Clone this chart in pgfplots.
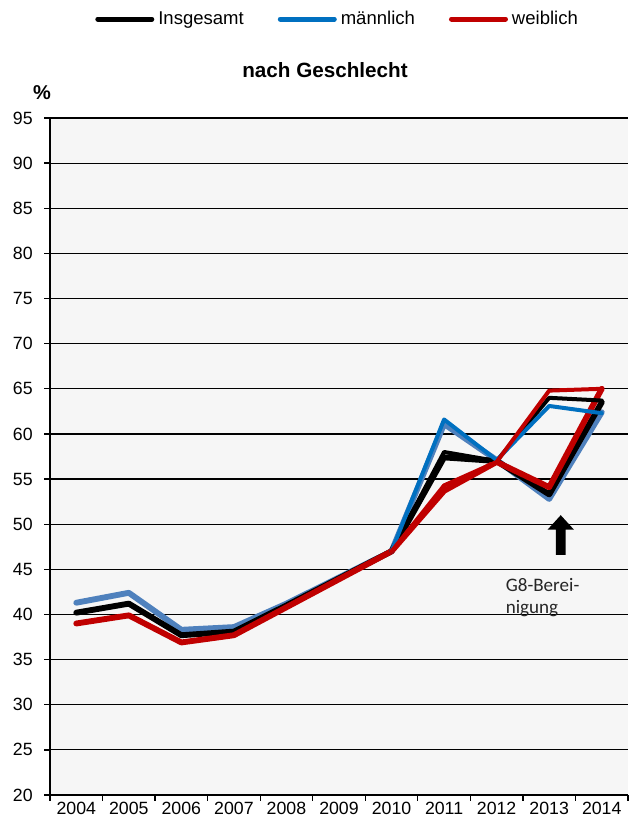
\documentclass[border=0pt]{standalone}
\usepackage{pgfplots}
\pgfplotsset{compat=1.18}
\usepackage{fontspec}
\setmainfont{Liberation Sans}
\newfontfamily\calibri{Carlito}
\definecolor{bgc}{RGB}{246,246,246}
\definecolor{blueA}{RGB}{79,129,189}
\definecolor{blueB}{RGB}{0,112,192}
\definecolor{redC}{RGB}{192,0,0}
\begin{document}
\begin{tikzpicture}
\path[use as bounding box] (-37.5pt,-24.75pt) rectangle (440.25pt,596.25pt);
\begin{axis}[
  scale only axis, width=433.5pt, height=507.75pt,
  at={(0pt,0pt)}, anchor=south west,
  xmin=2003.5, xmax=2014.5, ymin=20, ymax=95,
  axis x line*=bottom, axis y line*=left,
  axis line style={line width=1.1pt, -},
  xtick={2003.5,2004.5,2005.5,2006.5,2007.5,2008.5,2009.5,2010.5,2011.5,2012.5,2013.5,2014.5},
  x tick label as interval,
  xticklabels={2004,2005,2006,2007,2008,2009,2010,2011,2012,2013,2014},
  ytick={20,25,30,35,40,45,50,55,60,65,70,75,80,85,90,95},
  ymajorgrids, grid style={black, line width=0.9pt},
  tick align=outside,
  major tick length=4.5pt,
  tick style={black, line width=1pt},
  axis background/.style={fill=bgc},
  ticklabel style={font=\fontsize{13.3}{15}\selectfont},
  /pgf/number format/assume math mode=true,
  xticklabel style={yshift=3pt},
  yticklabel style={xshift=-5pt},
  clip=false,
  legend columns=3,
  legend style={draw=none, fill=none, at={(0.071,1.1462)}, anchor=west,
    font=\fontsize{13.9}{16}\selectfont,
    /tikz/every odd column/.append style={column sep=3pt},
    /tikz/every even column/.append style={column sep=25.5pt},
    nodes={inner sep=0pt}},
  legend image code/.code={\draw[line width=3.75pt, line cap=round] (0pt,0pt) -- (40.5pt,0pt);},
  every axis plot/.append style={line join=round, line cap=round},
]
% thick series (with G8 adjustment dip)
\addplot[blueA, line width=4.4pt, forget plot] coordinates {
(2004,41.3) (2005,42.4) (2006,38.3) (2007,38.6) (2008,41.2) (2009,44.1) (2010,47.0) (2011,61.1) (2012,57.1) (2013,52.8) (2014,62.4)};
\addplot[black, line width=4.4pt, forget plot] coordinates {
(2004,40.2) (2005,41.2) (2006,37.7) (2007,38.1) (2008,41.0) (2009,44.0) (2010,47.0) (2011,57.4) (2012,57.0) (2013,53.3) (2014,63.5)};
\addplot[redC, line width=4.4pt, forget plot] coordinates {
(2004,39.0) (2005,39.9) (2006,36.9) (2007,37.7) (2008,40.8) (2009,43.9) (2010,47.0) (2011,53.7) (2012,56.9) (2013,54.1) (2014,65.0)};
% thin series
\addplot[black, line width=3pt] coordinates {
(2010,47.0) (2011,58.0) (2012,57.0) (2013,64.0) (2014,63.7)};
\addlegendentry{Insgesamt}
\addplot[blueB, line width=3pt] coordinates {
(2010,47.0) (2011,61.6) (2012,57.1) (2013,63.1) (2014,62.3)};
\addlegendentry{männlich}
\addplot[redC, line width=3pt] coordinates {
(2010,47.0) (2011,54.3) (2012,56.9) (2013,64.8) (2014,65.0)};
\addlegendentry{weiblich}
% annotation arrow
\fill[black] (axis cs:2013.125,46.6) -- (axis cs:2013.125,49.4) -- (axis cs:2012.97,49.4) -- (axis cs:2013.22,51.0) -- (axis cs:2013.47,49.4) -- (axis cs:2013.315,49.4) -- (axis cs:2013.315,46.6) -- cycle;
\node[anchor=west, inner sep=0pt, text=black!85, font=\calibri\fontsize{14.3}{17}\selectfont] at (axis cs:2012.17,43.3) {G8-Berei-};
\node[anchor=west, inner sep=0pt, text=black!85, font=\calibri\fontsize{14.3}{17}\selectfont] at (axis cs:2012.17,40.6) {nigung};
\end{axis}
\node[font=\bfseries\fontsize{15.5}{18}\selectfont] at (206.25pt,543.3pt) {nach Geschlecht};
\node[font=\bfseries\fontsize{15}{18}\selectfont] at (-6pt,526.5pt) {\%};
\end{tikzpicture}
\end{document}
